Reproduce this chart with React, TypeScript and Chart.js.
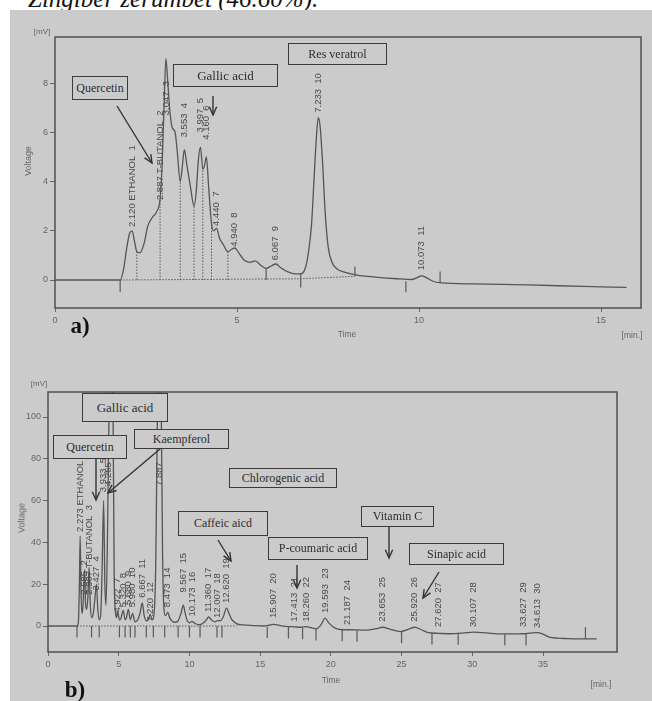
import React, { useEffect, useRef } from 'react';
import { Chart, registerables } from 'chart.js';
Chart.register(...registerables);

// ---------------- Panel a) data ----------------
const traceATime = [0, 1.79, 1.88, 1.97, 2.05, 2.12, 2.18, 2.25, 2.33, 2.45, 2.55, 2.68, 2.8, 2.887, 2.94, 2.99, 3.047, 3.1, 3.16, 3.22, 3.3, 3.36, 3.44, 3.49, 3.553, 3.62, 3.72, 3.82, 3.88, 3.94, 3.997, 4.06, 4.1, 4.16, 4.22, 4.3, 4.36, 4.44, 4.52, 4.62, 4.75, 4.85, 4.94, 5.05, 5.2, 5.35, 5.5, 5.65, 5.8, 5.95, 6.067, 6.2, 6.4, 6.6, 6.75, 6.88, 6.97, 7.05, 7.12, 7.19, 7.233, 7.28, 7.35, 7.42, 7.5, 7.6, 7.75, 7.95, 8.3, 8.8, 9.4, 9.8, 9.95, 10.073, 10.2, 10.35, 10.6, 11.5, 13, 14.5, 15.7];
const traceAVolt = [0, 0, 0.4, 1.3, 1.9, 2.0, 1.6, 1.15, 1.1, 1.5, 2.2, 2.55, 2.8, 3.3, 4.6, 6.8, 9.0, 8.0, 6.8, 6.2, 6.0, 5.2, 4.0, 4.5, 5.3, 4.7, 3.8, 3.0, 3.6, 4.9, 5.4, 4.5, 4.6, 5.0, 3.8, 2.3, 2.0, 2.1, 1.7, 1.45, 1.15, 1.25, 1.3, 1.1, 0.8, 0.72, 0.78, 0.6, 0.47, 0.58, 0.65, 0.5, 0.33, 0.25, 0.25, 0.5, 1.2, 2.3, 4.2, 6.0, 6.6, 6.3, 4.8, 2.8, 1.4, 0.75, 0.45, 0.32, 0.2, 0.12, 0.05, 0.02, 0.1, 0.17, 0.1, -0.03, -0.12, -0.16, -0.2, -0.26, -0.3];
const peakLabelA = ['2.120 ETHANOL  1', '2.887 T-BUTANOL  2', '3.047  3', '3.553  4', '3.997  5', '4.160  6', '4.440  7', '4.940  8', '6.067  9', '7.233  10', '10.073  11'];
const peakTimeA = [2.12, 2.887, 3.047, 3.553, 3.997, 4.16, 4.44, 4.94, 6.067, 7.233, 10.073];
const peakLabelAtA = [2.15, 3.25, 6.7, 5.8, 6.0, 5.7, 2.2, 1.35, 0.8, 6.8, 0.4];
const dropTimeA = [2.25, 2.887, 3.44, 3.82, 4.06, 4.3, 4.75];
const dropTopA = [1.15, 3.3, 4.0, 3.0, 4.5, 2.3, 1.15];
const markTimeA = [1.79, 5.8, 6.75, 8.24, 9.64, 10.58];
const markFromA = [0, 0, -0.3, 0.15, -0.05, 0.35];
const markToA = [-0.5, 0.47, 0.25, 0.55, -0.5, -0.12];
const baseTimeA = [1.79, 6.75, 8.24];
const baseVoltA = [0, 0.05, 0.15];
const tickXA = [0, 5, 10, 15];
const tickYA = [0, 2, 4, 6, 8];

// ---------------- Panel b) data ----------------
const traceBTime = [0, 2.05, 2.15, 2.22, 2.273, 2.33, 2.4, 2.48, 2.585, 2.66, 2.74, 2.82, 2.907, 2.98, 3.08, 3.2, 3.3, 3.427, 3.52, 3.62, 3.72, 3.82, 3.933, 4.02, 4.1, 4.2, 4.35, 4.463, 4.58, 4.68, 4.78, 4.85, 4.922, 5.05, 5.15, 5.32, 5.45, 5.55, 5.68, 5.82, 5.98, 6.15, 6.35, 6.5, 6.667, 6.8, 6.95, 7.1, 7.22, 7.38, 7.5, 7.62, 7.75, 7.887, 8.0, 8.1, 8.2, 8.3, 8.473, 8.6, 8.8, 9.0, 9.2, 9.4, 9.567, 9.7, 9.85, 10.0, 10.173, 10.4, 10.75, 11.0, 11.2, 11.36, 11.55, 11.8, 12.007, 12.2, 12.4, 12.62, 12.8, 13.0, 13.35, 13.8, 14.5, 15.2, 15.6, 15.907, 16.2, 16.8, 17.413, 17.9, 18.26, 18.6, 18.95, 19.3, 19.593, 19.85, 20.3, 20.9, 21.187, 22.5, 23.2, 23.653, 24.2, 24.9, 25.5, 25.92, 26.4, 26.9, 27.62, 28.4, 29.3, 30.107, 31, 32, 33, 33.627, 34.2, 34.613, 35.0, 35.4, 36, 36.7, 38.8];
const traceBVolt = [0, 0, 2, 20, 43, 18, 6, 10, 27, 10, 8, 14, 28, 12, 4, 6, 12, 20, 8, 3, 5, 25, 60, 20, 10, 40, 120, 140, 120, 25, 6, 4, 7, 3, 3.5, 7.5, 3, 4, 8, 3, 6, 2, 3, 6, 11, 5, 2.5, 3, 5.5, 3, 6, 30, 110, 140, 110, 35, 8, 5, 6.5, 4, 2.2, 1.8, 2.5, 6, 10, 6, 2.5, 1.5, 2.2, 1.2, 0.6, 1.5, 3, 4.3, 3, 2.0, 2.6, 2.5, 4.5, 8.6, 6, 3, 1, 0.5, 0.2, 0, 0.3, 0.8, 0.5, -0.2, -0.4, -0.6, -0.3, -0.8, -1.4, 0.5, 3.8, 1.5, -1.0, -1.8, -1.8, -2.0, -1.3, -0.6, -1.6, -2.7, -1.5, -0.6, -1.8, -3.2, -3.5, -3.7, -3.4, -2.9, -3.3, -3.8, -3.8, -3.7, -3.3, -3.2, -3.9, -5.2, -5.8, -6.0, -6.2];
const peakLabelB = ['2.273 ETHANOL  1', '2.585  2', '2.907 T-BUTANOL  3', '3.427  4', '3.933  5', '4.265  6', '4.922  7', '5.320  8', '5.680  9', '5.980  10', '6.667  11', '7.220  12', '7.887', '8.473  14', '9.567  15', '10.173  16', '11.360  17', '12.007  18', '12.620  19', '15.907  20', '17.413  21', '18.260  22', '19.593  23', '21.187  24', '23.653  25', '25.920  26', '27.620  27', '30.107  28', '33.627  29', '34.613  30'];
const peakTimeB = [2.273, 2.585, 2.907, 3.427, 3.933, 4.265, 4.922, 5.32, 5.68, 5.98, 6.667, 7.22, 7.887, 8.473, 9.567, 10.173, 11.36, 12.007, 12.62, 15.907, 17.413, 18.26, 19.593, 21.187, 23.653, 25.92, 27.62, 30.107, 33.627, 34.613];
const peakLabelAtB = [45, 15, 15, 17, 64, 67, 6.5, 9, 10, 9, 13.5, 2, 67, 9, 16, 4.5, 6.7, 3.8, 11, 3.8, 2, 2, 6.2, 0.5, 2, 2, -0.5, -0.5, -0.5, -1];
const markTimeB = [2.05, 3.08, 3.62, 5.05, 5.45, 5.82, 6.15, 6.95, 7.45, 8.25, 9.2, 10.0, 10.75, 11.95, 12.3, 15.5, 17.0, 18.0, 18.95, 20.8, 21.85, 25.0, 27.15, 29.0, 32.3, 33.8];
const markBaseB = [0, 0, 0, 0, 0, 0, 0, 0, 0, 0, 0, 0, 0, 0, 0, -0.3, -0.5, -0.8, -1.4, -1.8, -2.0, -2.8, -3.3, -3.5, -3.8, -3.8];
const endMarkB = { t: 38.0, from: -6.1, to: -0.5 };
const baseTimeB = [2.05, 13.35];
const baseVoltB = [0, 0];
const tickXB = [0, 5, 10, 15, 20, 25, 30, 35];
const tickYB = [0, 20, 40, 60, 80, 100];

const SANS = '"Liberation Sans", Arial, sans-serif';
const SERIF = '"Liberation Serif", "Times New Roman", serif';
const BG = '#cbcbcb';
const LINE = '#505050';

type PanelCfg = {
  width: number; height: number;
  padTop: number; padRight: number; yWidth: number; xHeight: number;
  xMax: number; yMin: number; yMax: number;
  tickX: number[]; tickY: number[];
  traceT: number[]; traceV: number[];
  labels: string[]; labelT: number[]; labelAt: number[];
  segs: { pts: { x: number; y: number }[]; dash: number[]; width: number }[];
};

function buildConfig(p: PanelCfg): any {
  const datasets: any[] = [
    {
      data: p.traceT.map((t, i) => ({ x: t, y: p.traceV[i] })),
      borderColor: '#555', borderWidth: 1.3, pointRadius: 0, fill: false,
      cubicInterpolationMode: 'monotone',
    },
    ...p.segs.map((s) => ({
      data: s.pts, borderColor: '#5a5a5a', borderWidth: s.width, borderDash: s.dash,
      pointRadius: 0, fill: false, tension: 0,
    })),
  ];
  const labelPlugin = {
    id: 'peakLabels',
    afterDatasetsDraw(chart: any) {
      const { ctx, scales } = chart;
      ctx.save();
      ctx.fillStyle = '#4a4a4a';
      ctx.font = `9.5px ${SANS}`;
      ctx.textAlign = 'left';
      ctx.textBaseline = 'middle';
      p.labels.forEach((txt, i) => {
        const x = scales.x.getPixelForValue(p.labelT[i]);
        const y = scales.y.getPixelForValue(p.labelAt[i]);
        ctx.save();
        ctx.translate(x, y);
        ctx.rotate(-Math.PI / 2);
        ctx.fillText(txt, 0, 0);
        ctx.restore();
      });
      ctx.restore();
    },
  };
  const framePlugin = {
    id: 'frame',
    afterDraw(chart: any) {
      const { ctx, chartArea: a } = chart;
      ctx.save();
      ctx.strokeStyle = LINE;
      ctx.lineWidth = 1.5;
      ctx.strokeRect(a.left, a.top, a.right - a.left, a.bottom - a.top);
      ctx.restore();
    },
  };
  const tickFont = { size: 9, family: SANS };
  return {
    type: 'line',
    data: { datasets },
    options: {
      animation: false, responsive: false, maintainAspectRatio: false,
      devicePixelRatio: 1, events: [],
      layout: { padding: { top: p.padTop, right: p.padRight, left: 0, bottom: 0 } },
      plugins: { legend: { display: false }, tooltip: { enabled: false } },
      scales: {
        x: {
          type: 'linear', min: 0, max: p.xMax,
          afterBuildTicks: (s: any) => { s.ticks = p.tickX.map((v) => ({ value: v })); },
          afterFit: (s: any) => { s.height = p.xHeight; },
          ticks: { color: '#666', font: tickFont, maxRotation: 0, autoSkip: false, padding: 3, callback: (v: any) => String(v) },
          grid: { drawOnChartArea: false, drawTicks: true, tickLength: 4, color: '#666', lineWidth: 1 },
          border: { display: false },
        },
        y: {
          type: 'linear', min: p.yMin, max: p.yMax,
          afterBuildTicks: (s: any) => { s.ticks = p.tickY.map((v) => ({ value: v })); },
          afterFit: (s: any) => { s.width = p.yWidth; },
          ticks: { color: '#666', font: tickFont, autoSkip: false, padding: 2, callback: (v: any) => String(v) },
          grid: { drawOnChartArea: false, drawTicks: true, tickLength: 5, color: '#666', lineWidth: 1 },
          border: { display: false },
        },
      },
    },
    plugins: [labelPlugin, framePlugin],
  };
}

const panelA: PanelCfg = {
  width: 652, height: 350, padTop: 37, padRight: 11, yWidth: 55, xHeight: 350 - 308,
  xMax: (641 - 55) / 36.4, yMin: -(308 - 280) / 24.6, yMax: (280 - 37) / 24.6,
  tickX: tickXA, tickY: tickYA, traceT: traceATime, traceV: traceAVolt,
  labels: peakLabelA, labelT: peakTimeA, labelAt: peakLabelAtA,
  segs: [
    ...dropTimeA.map((t, i) => ({ pts: [{ x: t, y: 0 }, { x: t, y: dropTopA[i] }], dash: [1.5, 1.5], width: 1 })),
    ...markTimeA.map((t, i) => ({ pts: [{ x: t, y: markFromA[i] }, { x: t, y: markToA[i] }], dash: [], width: 1.2 })),
    { pts: baseTimeA.map((t, i) => ({ x: t, y: baseVoltA[i] })), dash: [1.5, 1.5], width: 1 },
  ],
};

const panelB: PanelCfg = {
  width: 652, height: 351, padTop: 392 - 350, padRight: 652 - 617, yWidth: 48, xHeight: 351 - (652 - 350),
  xMax: (617 - 48) / 14.143, yMin: -(652 - 626) / 2.09, yMax: (626 - 392) / 2.09,
  tickX: tickXB, tickY: tickYB, traceT: traceBTime, traceV: traceBVolt,
  labels: peakLabelB, labelT: peakTimeB, labelAt: peakLabelAtB,
  segs: [
    ...markTimeB.map((t, i) => ({ pts: [{ x: t, y: markBaseB[i] }, { x: t, y: markBaseB[i] - 5.5 }], dash: [], width: 1.2 })),
    { pts: [{ x: endMarkB.t, y: endMarkB.from }, { x: endMarkB.t, y: endMarkB.to }], dash: [], width: 1.2 },
    { pts: baseTimeB.map((t, i) => ({ x: t, y: baseVoltB[i] })), dash: [1.5, 1.5], width: 1 },
  ],
};

function ChartCanvas({ cfg, top }: { cfg: PanelCfg; top: number }) {
  const ref = useRef<HTMLCanvasElement | null>(null);
  useEffect(() => {
    if (!ref.current) return;
    const chart = new Chart(ref.current, buildConfig(cfg));
    return () => chart.destroy();
  }, [cfg]);
  return (
    <canvas ref={ref} width={cfg.width} height={cfg.height}
      style={{ position: 'absolute', left: 0, top, width: cfg.width, height: cfg.height }} />
  );
}

function Box({ x1, y1, x2, y2, text, size = 12 }: { x1: number; y1: number; x2: number; y2: number; text: string; size?: number }) {
  return (
    <div style={{
      position: 'absolute', left: x1, top: y1, width: x2 - x1, height: y2 - y1, boxSizing: 'border-box',
      border: '1.5px solid #3a3a3a', background: BG, display: 'flex', alignItems: 'center', justifyContent: 'center',
      fontFamily: SERIF, fontSize: size, color: '#2e2e2e', whiteSpace: 'nowrap',
    }}>{text}</div>
  );
}

function Txt({ x, y, text, size = 9, rot = 0, family = SANS, color = '#666', weight = 400 }: any) {
  return (
    <div style={{
      position: 'absolute', left: x, top: y, transform: `translate(-50%,-50%) rotate(${rot}deg)`,
      fontFamily: family, fontSize: size, color, whiteSpace: 'nowrap', lineHeight: 1, fontWeight: weight,
    }}>{text}</div>
  );
}

function Arrow({ x1, y1, x2, y2 }: { x1: number; y1: number; x2: number; y2: number }) {
  const ang = Math.atan2(y2 - y1, x2 - x1);
  const L = 9, A = 0.42;
  const p1 = [x2 - L * Math.cos(ang - A), y2 - L * Math.sin(ang - A)];
  const p2 = [x2 - L * Math.cos(ang + A), y2 - L * Math.sin(ang + A)];
  return (
    <g stroke="#333" strokeWidth={1.4} fill="none">
      <line x1={x1} y1={y1} x2={x2} y2={y2} />
      <polyline points={`${p1[0]},${p1[1]} ${x2},${y2} ${p2[0]},${p2[1]}`} />
    </g>
  );
}

export default function App() {
  return (
    <div style={{ position: 'fixed', left: 0, top: 0, width: 652, height: 701, background: '#fff', overflow: 'hidden' }}>
      <div style={{ position: 'absolute', left: 28, top: -14, fontFamily: SERIF, fontSize: 25, lineHeight: '25px', color: '#111', whiteSpace: 'nowrap', fontStyle: 'italic' }}>
        Zingiber zerumbet (46.60%).
      </div>
      <div style={{ position: 'absolute', left: 10, top: 10, width: 642, height: 691, background: BG }} />
      <ChartCanvas cfg={panelA} top={0} />
      <ChartCanvas cfg={panelB} top={350} />

      {/* panel a texts */}
      <Txt x={42} y={32} text="[mV]" size={8} />
      <Txt x={28} y={161} text="Voltage" size={9} rot={-90} />
      <Txt x={347} y={334} text="Time" size={8.5} />
      <Txt x={632} y={335} text="[min.]" size={8.5} />
      <Txt x={80} y={325} text="a)" size={23} family={SERIF} color="#111" weight={700} />

      {/* panel b texts */}
      <Txt x={39} y={384} text="[mV]" size={8} />
      <Txt x={22} y={518} text="Voltage" size={9} rot={-90} />
      <Txt x={331} y={680} text="Time" size={8.5} />
      <Txt x={601} y={684} text="[min.]" size={8.5} />
      <Txt x={75} y={689} text="b)" size={23} family={SERIF} color="#111" weight={700} />

      {/* annotation boxes a */}
      <Box x1={72} y1={76} x2={128} y2={100} text="Quercetin" size={12} />
      <Box x1={173} y1={64} x2={278} y2={87} text="Gallic acid" size={13} />
      <Box x1={288} y1={43} x2={387} y2={65} text="Res veratrol" size={12} />

      {/* annotation boxes b */}
      <Box x1={82} y1={393} x2={168} y2={422} text="Gallic acid" size={13} />
      <Box x1={53} y1={435} x2={127} y2={459} text="Quercetin" size={12} />
      <Box x1={134} y1={429} x2={229} y2={449} text="Kaempferol" size={12} />
      <Box x1={229} y1={468} x2={337} y2={488} text="Chlorogenic acid" size={12} />
      <Box x1={178} y1={511} x2={268} y2={536} text="Caffeic aicd" size={12} />
      <Box x1={268} y1={537} x2={368} y2={560} text="P-coumaric acid" size={12} />
      <Box x1={361} y1={506} x2={434} y2={527} text="Vitamin C" size={12} />
      <Box x1={409} y1={543} x2={504} y2={565} text="Sinapic acid" size={12} />

      <svg width={652} height={701} style={{ position: 'absolute', left: 0, top: 0 }}>
        <Arrow x1={117} y1={106} x2={152} y2={163} />
        <Arrow x1={213} y1={96} x2={213} y2={115} />
        <Arrow x1={96} y1={459} x2={96} y2={500} />
        <Arrow x1={160} y1={449} x2={108} y2={493} />
        <Arrow x1={218} y1={540} x2={231} y2={561} />
        <Arrow x1={297} y1={565} x2={297} y2={588} />
        <Arrow x1={389} y1={527} x2={389} y2={558} />
        <Arrow x1={439} y1={572} x2={423} y2={598} />
      </svg>
    </div>
  );
}
